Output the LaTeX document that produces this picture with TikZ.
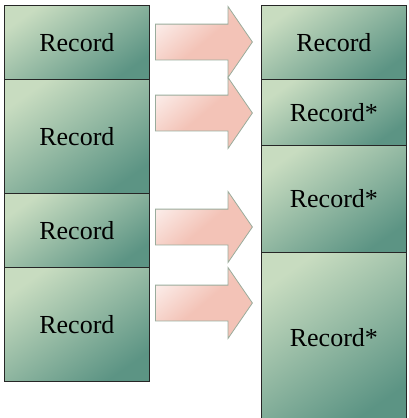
\documentclass[tikz,border=0pt]{standalone}
\usepackage{fontspec}
\setmainfont{Liberation Serif}
\usetikzlibrary{shapes.arrows}

\definecolor{recLight}{HTML}{C8DCC0}
\definecolor{recDark}{HTML}{5C9484}
\definecolor{arrFill}{HTML}{F3C3B7}
\definecolor{arrLine}{HTML}{9AAC9C}

\begin{document}
\begin{tikzpicture}[x=1pt, y=-1pt,
    record/.style={draw=black!85, line width=0.8pt, top color=recLight, bottom color=recDark,
        shading angle=35, minimum width=145pt, inner sep=0, anchor=north west,
        font=\fontsize{26}{29}\selectfont},
    move/.style={single arrow, draw=arrLine, line width=0.8pt, top color=arrFill!35!white,
        bottom color=arrFill, middle color=arrFill, shading angle=40, inner xsep=0pt,
        inner ysep=17.5pt, minimum height=97pt, single arrow head extend=17.5pt,
        single arrow tip angle=111, anchor=tail}
]
\useasboundingbox (0,0) rectangle (408,418);
\clip (0,0) rectangle (408,418);

% Left column
\node[record, minimum height=74pt]  (l1) at (4,5)   {Record};
\node[record, minimum height=114pt] (l2) at (4,79)  {Record};
\node[record, minimum height=74pt]  (l3) at (4,193) {Record};
\node[record, minimum height=114pt] (l4) at (4,267) {Record};

% Right column
\node[record, minimum height=74pt]  (r1) at (261,5)   {Record};
\node[record, minimum height=66pt]  (r2) at (261,79)  {Record*};
\node[record, minimum height=107pt] (r3) at (261,145) {Record*};
\node[record, minimum height=170pt] (r4) at (261,252) {Record*};

% Arrows
\node[move] (a1) at (155,42)  {};
\node[move] (a2) at (155,113) {};
\node[move] (a3) at (155,227) {};
\node[move] (a4) at (155,303) {};

\end{tikzpicture}
\end{document}
